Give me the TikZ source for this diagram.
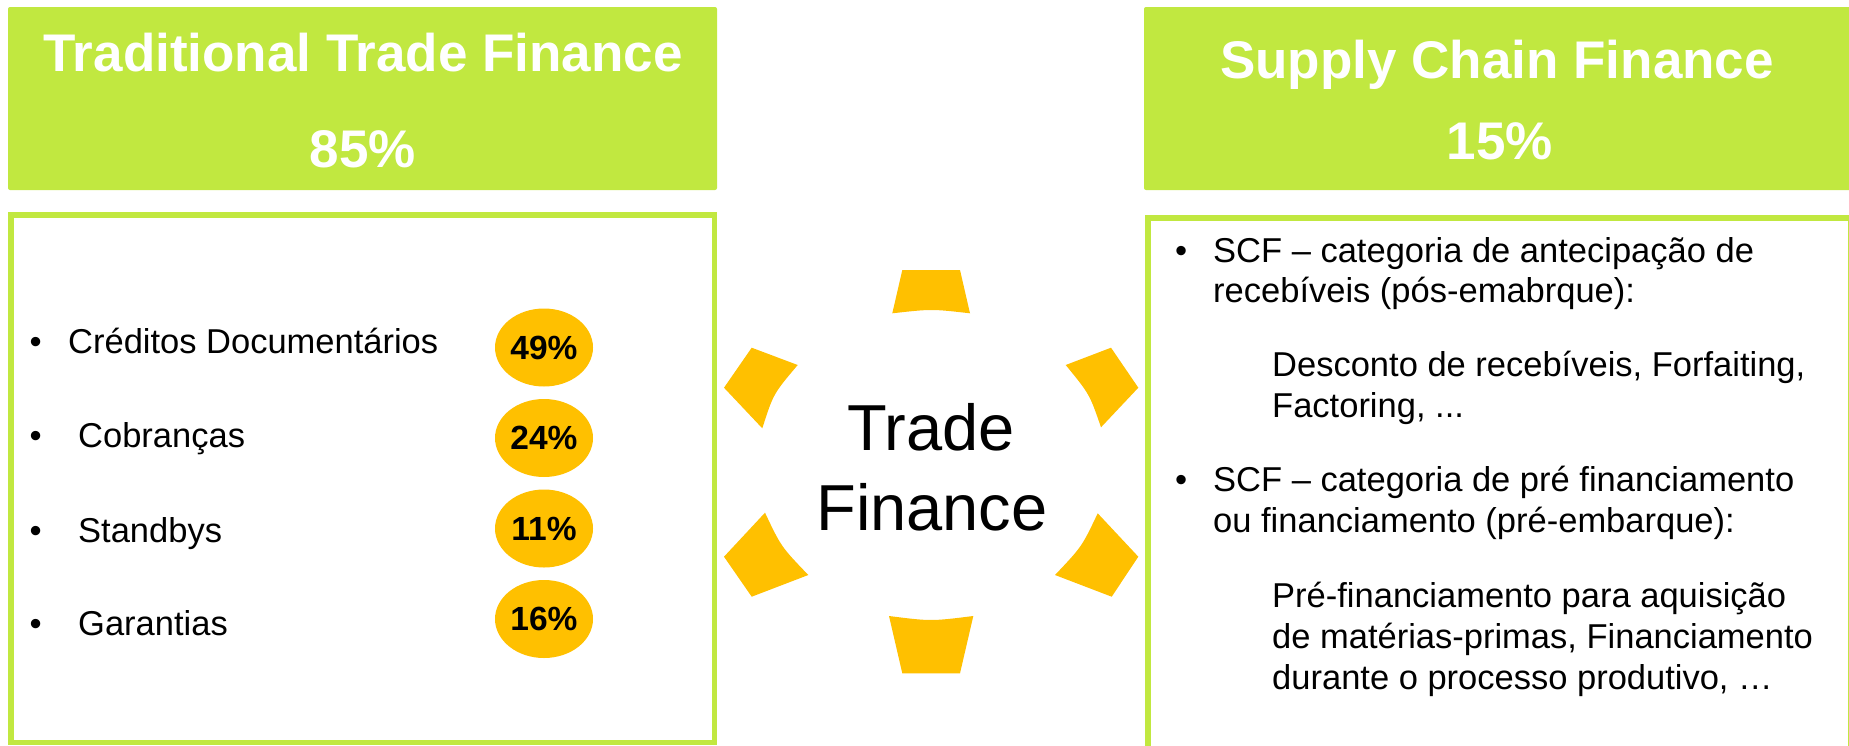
\documentclass[tikz,border=0pt]{standalone}
\usepackage{fontspec}
\setmainfont{Liberation Sans}
\usetikzlibrary{shapes.geometric}
\definecolor{lime}{RGB}{193,232,64}
\definecolor{gold}{RGB}{255,192,0}
\begin{document}
\begin{tikzpicture}[x=1pt,y=-1pt,
  hdrtext/.style={inner sep=0pt, anchor=base, text=white, font=\fontsize{53}{60}\selectfont\bfseries},
  bodytext/.style={inner sep=0pt, anchor=base west, font=\fontsize{34.5}{40}\selectfont},
  centertext/.style={inner sep=0pt, anchor=base, font=\fontsize{65}{75}\selectfont},
  oval/.style={ellipse, fill=gold, minimum width=98pt, minimum height=78pt, inner sep=0pt, font=\fontsize{33.5}{40}\selectfont\bfseries},
  piece/.style={fill=gold},
  hdrbox/.style={fill=lime, rounded corners=2pt},
  contentbox/.style={draw=lime, line width=5.5pt}]
\useasboundingbox (0,0) rectangle (1849,745);
\fill[white] (0,0) rectangle (1849,745);
\clip (0,0) rectangle (1849,745);

% headers
\fill[hdrbox] (8,7) rectangle (717,190);
\fill[hdrbox] (1144,7) rectangle (1860,190);
\node[hdrtext] (tt1) at (363,71) {Traditional Trade Finance};
\node[hdrtext] (tt2) at (363,167) {85\%};
\node[hdrtext] (sc1) at (1497,78) {Supply Chain Finance};
\node[hdrtext] (sc2) at (1500,159) {15\%};

% content boxes
\draw[contentbox] (10.75,214.75) rectangle (714.25,742.5);
\draw[contentbox] (1147.75,217.75) rectangle (1850.5,770);

% left list
\node[bodytext] (b1) at (29.5,353) {•};
\node[bodytext] (l1) at (68,353) {Créditos Documentários};
\node[bodytext] (b2) at (29.5,447) {•};
\node[bodytext] (l2) at (78,447) {Cobranças};
\node[bodytext] (b3) at (29.5,542) {•};
\node[bodytext] (l3) at (78,542) {Standbys};
\node[bodytext] (b4) at (29.5,635) {•};
\node[bodytext] (l4) at (78,635) {Garantias};

\node[oval] (p1) at (544,347.5) {49\%};
\node[oval] (p2) at (544,438) {24\%};
\node[oval] (p3) at (544,528.5) {11\%};
\node[oval] (p4) at (544,619) {16\%};

% centre pieces
\fill[piece] (902.3,270) -- (960,270) -- (970,313.3) .. controls (931.6,308.9) .. (892.3,313.3) -- cycle;
\fill[piece] (889,616) .. controls (931,621.3) .. (973.3,616) -- (960,673.3) -- (902.3,673.3) -- cycle;
\fill[piece] (751.7,347.7) -- (797.7,365) .. controls (773.3,393.9) .. (762.3,428.3) -- (724,387.7) -- cycle;
\fill[piece] (765,512.7) .. controls (781.1,546.7) .. (808.3,575) -- (751.7,596.7) -- (724,556.7) -- cycle;
\fill[piece] (1111,347.7) -- (1138.3,387.7) -- (1101,427.3) .. controls (1089.55,394.1) .. (1065.7,365) -- cycle;
\fill[piece] (1055,575) .. controls (1081.9,546.6) .. (1097.7,513.3) -- (1138.3,556.7) -- (1111.7,596.7) -- cycle;

\node[centertext] (c1) at (931,450) {Trade};
\node[centertext] (c2) at (932,530) {Finance};

% right text
\node[bodytext] (rb1) at (1175,262) {•};
\node[bodytext] (r1) at (1213,262) {SCF – categoria de antecipação de};
\node[bodytext] (r2) at (1213,302) {recebíveis (pós-emabrque):};
\node[bodytext] (r3) at (1272,376) {Desconto de recebíveis, Forfaiting,};
\node[bodytext] (r4) at (1272,417) {Factoring, ...};
\node[bodytext] (rb2) at (1175,491) {•};
\node[bodytext] (r5) at (1213,491) {SCF – categoria de pré financiamento};
\node[bodytext] (r6) at (1213,532) {ou financiamento (pré-embarque):};
\node[bodytext] (r7) at (1272,607) {Pré-financiamento para aquisição};
\node[bodytext] (r8) at (1272,648) {de matérias-primas, Financiamento};
\node[bodytext] (r9) at (1272,689) {durante o processo produtivo, …};
\end{tikzpicture}
\end{document}
